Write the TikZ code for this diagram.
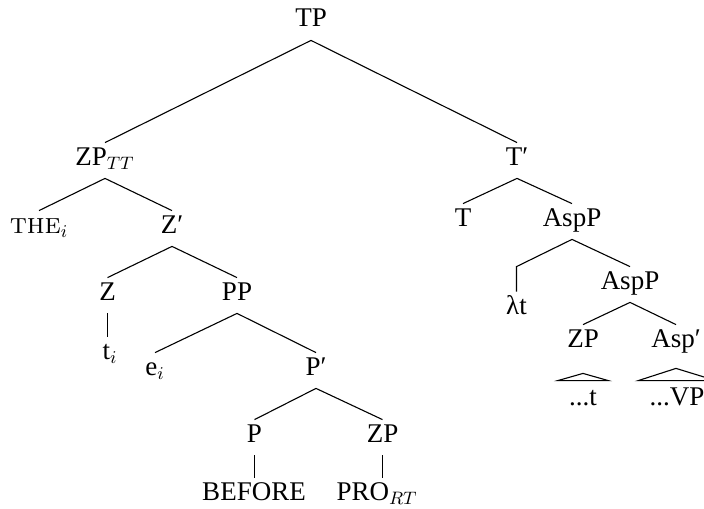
\documentclass[tikz,border=0pt]{standalone}
\usepackage{fontspec}
\usetikzlibrary{calc}
\newfontfamily\tms{Liberation Serif}
\begin{document}
\begin{tikzpicture}[x=0.5pt,y=-0.5pt,
  lbl/.style={anchor=base, font=\fontsize{13.5}{15}\selectfont\tms,
    inner xsep=0pt, inner ysep=0pt, text height=11pt, text depth=6.5pt},
  branch/.style={line width=0.55pt},
  roof/.style={line width=0.55pt, line join=miter}]
\useasboundingbox (0,0) rectangle (704,508);
\clip (0,0) rectangle (704,508);

% labels of the left subtree
\node[lbl] (tp)     at (311,27)  {TP};
\node[lbl] (zptt)   at (105,165) {ZP$_{TT}$};
\node[lbl] (the)    at (39,233)  {{\normalfont\fontsize{14.5}{15}\selectfont\scshape the}$_i$};
\node[lbl] (zbar)   at (172,233) {Z′};
\node[lbl] (z)      at (107.5,300) {Z};
\node[lbl] (pp)     at (237,300) {PP};
\node[lbl] (ti)     at (110,359) {t$_i$};
\node[lbl] (ei)     at (155,375) {e$_i$};
\node[lbl] (pbar)   at (316,375) {P′};
\node[lbl] (p)      at (254.5,442) {P};
\node[lbl] (zpa)    at (382.5,442) {ZP};
\node[lbl] (before) at (254,500) {BEFORE};
\node[lbl] (pro)    at (377,500) {PRO$_{RT}$};

% labels of the right subtree
\node[lbl] (tbar)   at (517,165) {T′};
\node[lbl] (t)      at (463,226) {T};
\node[lbl] (asppa)  at (572,226) {AspP};
\node[lbl] (lamt)   at (516.5,314) {λt};
\node[lbl] (asppb)  at (630,289) {AspP};
\node[lbl] (zpb)    at (583,347) {ZP};
\node[lbl] (aspbar) at (676,347) {Asp′};
\node[lbl] (dt)     at (583,405) {...t};
\node[lbl] (dvp)    at (677,405) {...VP};

% branches
\draw[branch] (tp.south) -- (zptt.north);
\draw[branch] (tp.south) -- (tbar.north);
\draw[branch] (zptt.south) -- (the.north);
\draw[branch] (zptt.south) -- (zbar.north);
\draw[branch] (zbar.south) -- (z.north);
\draw[branch] (zbar.south) -- (pp.north);
\draw[branch] (z.south) -- (z.south |- ti.north);
\draw[branch] (pp.south) -- (ei.north);
\draw[branch] (pp.south) -- (pbar.north);
\draw[branch] (pbar.south) -- (p.north);
\draw[branch] (pbar.south) -- (zpa.north);
\draw[branch] (p.south) -- (p.south |- before.north);
\draw[branch] (zpa.south) -- (zpa.south |- pro.north);

\draw[branch] (tbar.south) -- (t.north);
\draw[branch] (tbar.south) -- (asppa.north);
\draw[branch] (asppa.south) -- (lamt.north |- asppb.north) -- (lamt.north);
\draw[branch] (asppa.south) -- (asppb.north);
\draw[branch] (asppb.south) -- (zpb.north);
\draw[branch] (asppb.south) -- (aspbar.north);

% roofs over the abbreviated constituents
\draw[roof] ($(zpb.south)+(0,13)$) -- ($(dt.north west)+(-11,-2)$)
  -- ($(dt.north east)+(11,-2)$) -- cycle;
\draw[roof] ($(aspbar.south)+(0,8)$) -- ($(dvp.north west)+(-11,-2)$)
  -- ($(dvp.north east)+(11,-2)$) -- cycle;
\end{tikzpicture}
\end{document}
